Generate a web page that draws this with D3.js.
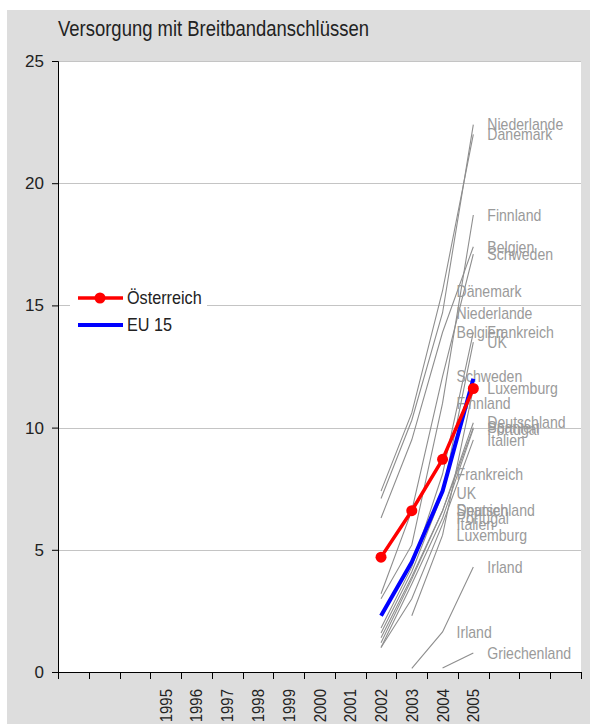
<!DOCTYPE html>
<html><head><meta charset="utf-8">
<script src="https://cdn.jsdelivr.net/npm/d3@7"></script>
<style>
html,body{margin:0;padding:0;background:#fff;}
svg{display:block;}
</style></head>
<body>
<script>
// ---- data ----
const xLabels = ["", "", "", "1995", "1996", "1997", "1998", "1999", "2000", "2001", "2002", "2003", "2004", "2005", "", "", ""];
const years = ["2002", "2003", "2004", "2005"];
const yTicks = [0, 5, 10, 15, 20, 25];
const title = "Versorgung mit Breitbandanschlüssen";

const oesterreich = [4.7, 6.6, 8.7, 11.6];
const eu15 = [2.3, 4.5, 7.4, 12.0];

const countries = ["Dänemark", "Niederlande", "Belgien", "Schweden", "Finnland", "Frankreich", "UK",
  "Deutschland", "Spanien", "Portugal", "Italien", "Luxemburg", "Irland", "Griechenland"];
const dk = [7.4, 10.6, 15.6, 22.0];
const nl = [7.1, 10.3, 14.7, 22.4];
const be = [6.3, 9.5, 13.9, 17.4];
const se = [3.2, 6.6, 12.1, 17.1];
const fi = [3.0, 5.2, 11.0, 18.7];
const fr = [1.8, 4.3, 8.1, 13.9];
const uk = [1.6, 4.1, 7.3, 13.5];
const de = [1.4, 3.9, 6.6, 10.2];
const es = [1.2, 3.8, 6.6, 10.0];
const pt = [1.0, 3.6, 6.3, 9.95];
const it = [1.0, 3.0, 6.05, 9.5];
const lu = [null, 2.3, 5.6, 11.6];
const ie = [null, 0.15, 1.64, 4.3];
const gr = [null, null, 0.16, 0.78];
const countryValues = [dk, nl, be, se, fi, fr, uk, de, es, pt, it, lu, ie, gr];
const labelled2004 = ["Dänemark", "Niederlande", "Belgien", "Schweden", "Finnland", "Frankreich", "UK",
  "Deutschland", "Spanien", "Portugal", "Italien", "Luxemburg", "Irland"];

// ---- layout ----
const W = 590, H = 724;
const pL = 58, pR = 581, pT = 61, pB = 672;
const FONT = "'Liberation Sans',Arial,sans-serif";

const svg = d3.select("body").append("svg").attr("width", W).attr("height", H)
  .style("font-family", FONT);

// narrow text helper: real text, horizontally condensed
function ntext(parent, tx, ty, str, size, sx, fill, rot) {
  return parent.append("text")
    .attr("transform", `translate(${tx},${ty})${rot ? ` rotate(${rot})` : ""} scale(${sx},1)`)
    .attr("font-size", size).attr("fill", fill).text(str);
}

svg.append("rect").attr("x", 7).attr("y", 10).attr("width", W - 7).attr("height", H - 10).attr("fill", "#dddddd");
svg.append("rect").attr("x", pL).attr("y", pT).attr("width", pR - pL).attr("height", pB - pT).attr("fill", "#fff");

const x = d3.scaleBand().domain(d3.range(xLabels.length)).range([pL, pR]).padding(0);
const y = d3.scaleLinear().domain([0, 25]).range([pB, pT]);
const xYear = yr => x(xLabels.indexOf(yr)) + x.bandwidth() / 2;

// grid
svg.append("g").selectAll("line").data(yTicks.filter(d => d > 0)).join("line")
  .attr("x1", pL).attr("x2", pR).attr("y1", d => Math.round(y(d)) + 0.5).attr("y2", d => Math.round(y(d)) + 0.5)
  .attr("stroke", "#c4c4c4").attr("stroke-width", 1);

// title
ntext(svg, 58, 36, title, 22, 0.84, "#222");

// y axis
const yAxis = svg.append("g").attr("transform", `translate(${pL},0)`)
  .call(d3.axisLeft(y).tickValues(yTicks).tickSize(6).tickPadding(8));
yAxis.select(".domain").attr("stroke", "#000");
yAxis.selectAll(".tick line").attr("stroke", "#000");
yAxis.selectAll("text").attr("font-size", 17).attr("fill", "#222").attr("font-family", FONT);

// x axis
const xg = svg.append("g");
xg.append("line").attr("x1", pL - 6).attr("x2", pR).attr("y1", pB + 0.5).attr("y2", pB + 0.5).attr("stroke", "#000");
const bounds = d3.range(xLabels.length + 1).map(i => i < xLabels.length ? x(i) : x(xLabels.length - 1) + x.bandwidth());
xg.selectAll("line.tk").data(bounds).join("line").attr("class", "tk")
  .attr("x1", d => Math.round(d) + 0.5).attr("x2", d => Math.round(d) + 0.5)
  .attr("y1", pB).attr("y2", pB + 7).attr("stroke", "#000");
xLabels.forEach((l, i) => {
  if (l === "") return;
  ntext(xg, x(i) + x.bandwidth() / 2 + 6, 689, l, 17, 0.88, "#222", -90).attr("text-anchor", "end");
});

// country lines
const line = d3.line().defined(d => d.v != null).x(d => xYear(d.yr)).y(d => y(d.v));
const cg = svg.append("g");
countries.forEach((c, ci) => {
  const pts = years.map((yr, i) => ({ yr, v: countryValues[ci][i] }));
  cg.append("path").datum(pts).attr("d", line).attr("fill", "none")
    .attr("stroke", "#8e8e8e").attr("stroke-width", 1.1);
});
// labels
const lg = svg.append("g");
countries.forEach((c, ci) => {
  const v = countryValues[ci];
  if (labelled2004.includes(c) && v[2] != null)
    ntext(lg, xYear("2004") + 14, y(v[2]), c, 16, 0.88, "#9a9a9a").attr("dy", "0.36em");
  ntext(lg, xYear("2005") + 14, y(v[3]), c, 16, 0.88, "#9a9a9a").attr("dy", "0.36em");
});

// EU 15
const pts = arr => years.map((yr, i) => ({ yr, v: arr[i] }));
svg.append("path").datum(pts(eu15)).attr("d", line).attr("fill", "none")
  .attr("stroke", "#0000ff").attr("stroke-width", 4).attr("stroke-linejoin", "round");
// Österreich
svg.append("path").datum(pts(oesterreich)).attr("d", line).attr("fill", "none")
  .attr("stroke", "#ff0000").attr("stroke-width", 3.5).attr("stroke-linejoin", "round");
svg.append("g").selectAll("circle").data(pts(oesterreich)).join("circle")
  .attr("cx", d => xYear(d.yr)).attr("cy", d => y(d.v)).attr("r", 5.5).attr("fill", "#ff0000");

// legend
const leg = svg.append("g");
leg.append("rect").attr("x", 70).attr("y", 284).attr("width", 137).attr("height", 56).attr("fill", "#fff");
leg.append("line").attr("x1", 78).attr("x2", 123).attr("y1", 298).attr("y2", 298).attr("stroke", "#ff0000").attr("stroke-width", 3.5);
leg.append("circle").attr("cx", 100).attr("cy", 298).attr("r", 5.5).attr("fill", "#ff0000");
leg.append("line").attr("x1", 78).attr("x2", 123).attr("y1", 325).attr("y2", 325).attr("stroke", "#0000ff").attr("stroke-width", 4);
ntext(leg, 127, 298, "Österreich", 18, 0.9, "#222").attr("dy", "0.36em");
ntext(leg, 127, 325, "EU 15", 18, 0.9, "#222").attr("dy", "0.36em");
</script>
</body></html>
